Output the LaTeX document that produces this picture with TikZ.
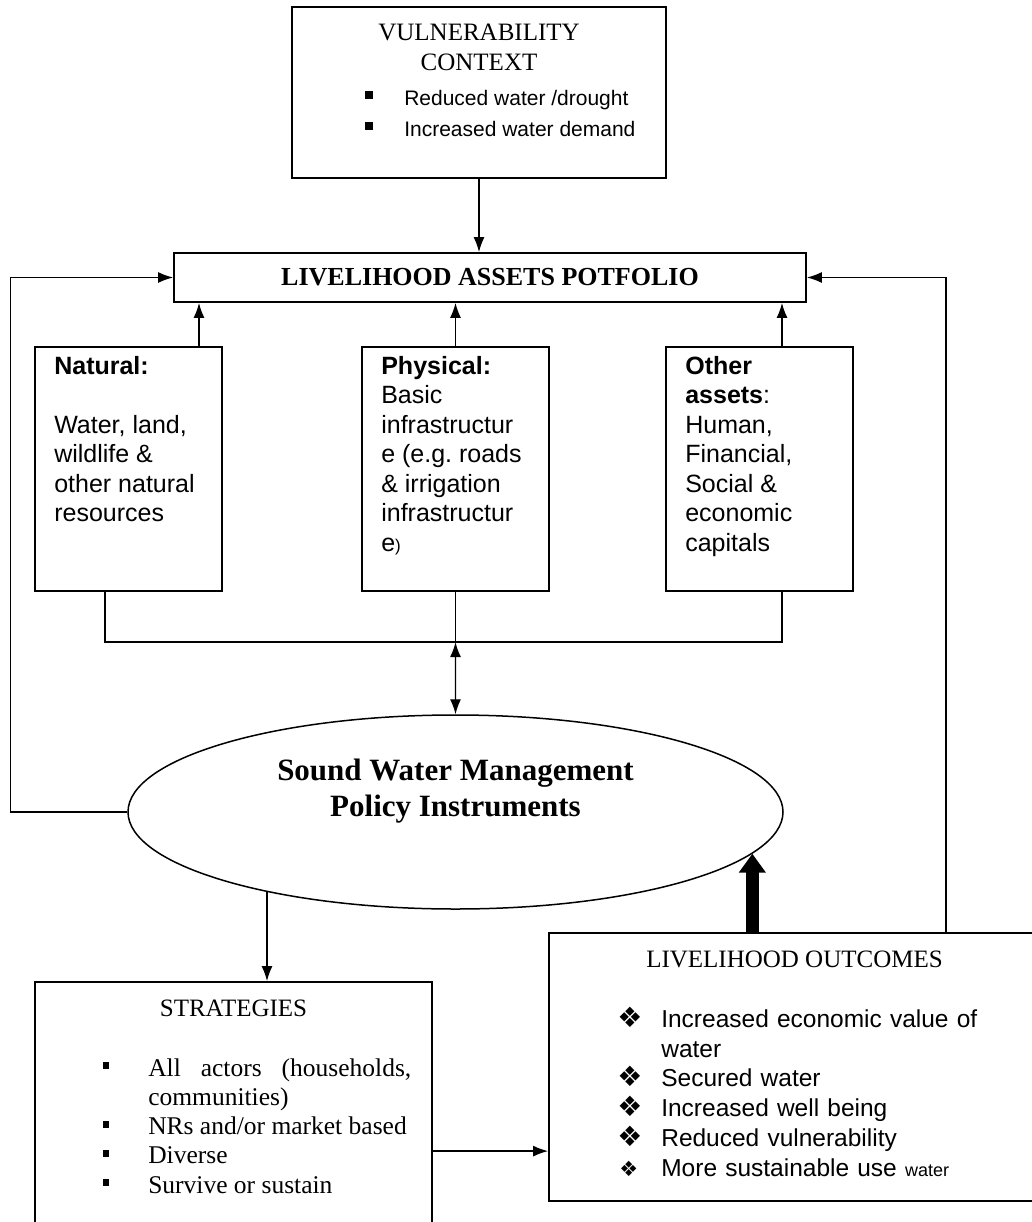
\documentclass[tikz,border=0pt]{standalone}
\usepackage{fontspec}
\setmainfont{Liberation Serif}
\setsansfont{Liberation Sans}
\newfontfamily\dingfont{DejaVu Sans}
\usepackage{tikz}
\usetikzlibrary{positioning}
\usetikzlibrary{shapes.geometric,arrows.meta}

\tikzset{
    box/.style={draw, line width=1.8pt, inner sep=0pt},
    oval/.style={draw, ellipse, line width=1.5pt, inner sep=0pt, minimum width=655pt, minimum height=194pt},
    link/.style={line width=1.4pt},
    arr/.style={link, -{Latex[length=15pt,width=11pt]}},
    dbl/.style={link, {Latex[length=15pt,width=11pt]}-{Latex[length=15pt,width=11pt]}},
    bigarr/.style={line width=12.5pt, -{Triangle[length=19pt,width=26pt]}},
    head/.style={font=\fontsize{25}{30}\selectfont, align=center, inner sep=0pt},
    sans/.style={font=\sffamily\fontsize{25}{29.5}\selectfont, align=left, inner sep=0pt},
}
\newcommand{\sqbul}{\rule[7pt]{6pt}{7pt}}
\newcommand{\dia}[1]{\smash{\dingfont\fontsize{#1}{20}\selectfont ❖}}
\newcommand{\nextitem}{\par}

\begin{document}
\begin{tikzpicture}[x=1pt, y=1pt]
    \path[use as bounding box, fill=white] (0,0) rectangle (1031,-1222);

    % Nodes
    \node[box, minimum width=374pt, minimum height=171pt,
        label={[head, anchor=north, yshift=-18pt]north:{VULNERABILITY\\CONTEXT}},
        label={[sans, font=\sffamily\fontsize{21}{31}\selectfont, anchor=north west, xshift=74pt, yshift=-84pt]north west:{%
            \makebox[39pt][l]{\rule[7pt]{8pt}{8pt}}Reduced water /drought\\
            \makebox[39pt][l]{\rule[7pt]{8pt}{8pt}}Increased water demand}}]
        (vuln) at (479,-92.5) {};
    \node[box, minimum width=632pt, minimum height=49pt, font=\bfseries\fontsize{26}{30}\selectfont]
        (assets) at (490,-277.5) {LIVELIHOOD ASSETS POTFOLIO};

    \node[box, minimum width=187pt, minimum height=244pt,
        label={[sans, anchor=north west, xshift=20pt, yshift=-10pt]north west:{%
            \textbf{Natural:}\\[29.5pt]Water, land,\\wildlife \&\\other natural\\resources}}]
        (natural) at (128.5,-469) {};
    \node[box, minimum width=187pt, minimum height=244pt, right=138.2pt of natural,
        label={[sans, anchor=north west, xshift=20pt, yshift=-10pt]north west:{%
            \textbf{Physical:}\\Basic\\infrastructur\\e (e.g.\ roads\\\& irrigation\\infrastructur\\e{\fontsize{17}{20}\selectfont)}}}]
        (physical) {};
    \node[box, minimum width=187pt, minimum height=244pt, right=115.2pt of physical,
        label={[sans, anchor=north west, xshift=20pt, yshift=-10pt]north west:{%
            \textbf{Other}\\\textbf{assets}:\\Human,\\Financial,\\Social \&\\economic\\capitals}}]
        (other) {};

    \node[oval,
        label={[font=\bfseries\fontsize{31}{36}\selectfont, align=center, inner sep=0pt, anchor=center, yshift=21pt]center:{%
            Sound Water Management\\Policy Instruments}}]
        (policy) at (455.5,-812) {};

    \node[box, minimum width=397pt, minimum height=258pt,
        label={[head, anchor=north, yshift=-18.8pt]north:{STRATEGIES}},
        label={[font=\fontsize{25.5}{29.3}\selectfont, text width=308pt, align=justify, inner sep=0pt, anchor=north west, xshift=69pt, yshift=-77pt]north west:{%
            \tolerance=10000
            \hangindent=45pt\hangafter=1\noindent\makebox[45pt][l]{\sqbul}All actors (households, communities)\nextitem
            \noindent\makebox[45pt][l]{\sqbul}NRs and/or market based\nextitem
            \noindent\makebox[45pt][l]{\sqbul}Diverse\nextitem
            \noindent\makebox[45pt][l]{\sqbul}Survive or sustain}}]
        (strategies) at (233.5,-1111) {};

    \node[box, minimum width=491pt, minimum height=268pt,
        label={[head, font=\fontsize{25}{30}\selectfont, anchor=north, yshift=-19pt]north:{LIVELIHOOD OUTCOMES}},
        label={[sans, font=\sffamily\fontsize{24.5}{29.8}\selectfont, text width=380pt, anchor=north west, xshift=69pt, yshift=-77.3pt]north west:{%
            \hyphenpenalty=10000
            \hangindent=44pt\hangafter=1\noindent\makebox[44pt][l]{\dia{28}}Increased economic value of water\nextitem
            \noindent\makebox[44pt][l]{\dia{28}}Secured water\nextitem
            \noindent\makebox[44pt][l]{\dia{28}}Increased well being\nextitem
            \noindent\makebox[44pt][l]{\dia{28}}Reduced vulnerability\nextitem
            \noindent\makebox[44pt][l]{\hspace{2pt}\dia{21}}More sustainable use {\fontsize{18}{20}\selectfont water}}}]
        (outcomes) at (794.5,-1067) {};

    % Edges
    \draw[arr] (vuln.south) -- (vuln.south |- assets.north);
    \draw[arr] ([xshift=70.5pt]natural.north) -- ([xshift=70.5pt]natural.north |- assets.south);
    \draw[arr] (physical.north) -- (physical.north |- assets.south);
    \draw[arr] ([xshift=22.5pt]other.north) -- ([xshift=22.5pt]other.north |- assets.south);

    \coordinate[below=50.2pt of physical.south] (merge);
    \draw[link] ([xshift=-23.5pt]natural.south) |- (merge) -| ([xshift=22.5pt]other.south);
    \draw[link] (physical.south) -- (merge);
    \draw[dbl] (merge) -- (policy.north);

    \draw[arr] (policy.west) -- ++(-117pt,0) |- (assets.west);
    \draw[arr] ([xshift=151.5pt]outcomes.north) |- (assets.east);
    \draw[arr] (policy.203) -- (policy.203 |- strategies.north);
    \draw[bigarr] (policy.-8.5 |- outcomes.north) -- (policy.-8.5);
    \draw[arr] ([yshift=-170pt]strategies.north east) -- ([yshift=-170pt]strategies.north east -| outcomes.west);
\end{tikzpicture}
\end{document}
